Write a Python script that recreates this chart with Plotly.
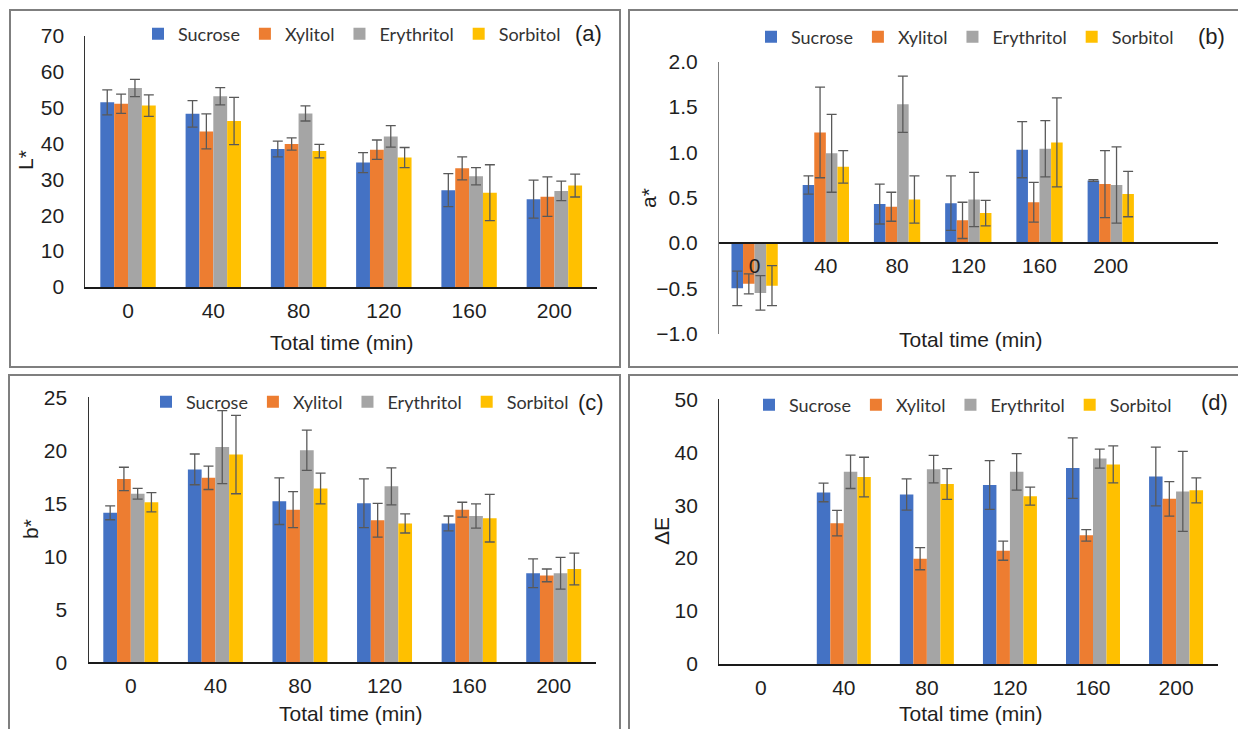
import plotly.graph_objects as go

# ---------------- data ----------------
categories = ["0", "40", "80", "120", "160", "200"]
series = ["Sucrose", "Xylitol", "Erythritol", "Sorbitol"]

# (a) L*
L_sucrose = [51.5, 48.3, 38.5, 34.7, 27.0, 24.5]
L_xylitol = [51.1, 43.4, 39.9, 38.3, 33.1, 25.2]
L_erythritol = [55.5, 53.2, 48.4, 42.0, 30.9, 26.8]
L_sorbitol = [50.6, 46.3, 37.9, 36.1, 26.3, 28.3]
L_err_sucrose = [3.5, 3.7, 2.2, 2.8, 4.6, 5.3]
L_err_xylitol = [2.7, 4.9, 1.7, 2.7, 3.2, 5.5]
L_err_erythritol = [2.4, 2.4, 2.1, 3.0, 2.4, 2.7]
L_err_sorbitol = [3.0, 6.6, 1.9, 2.8, 7.8, 3.2]

# (b) a*
a_sucrose = [-0.50, 0.64, 0.43, 0.44, 1.03, 0.69]
a_xylitol = [-0.45, 1.22, 0.40, 0.25, 0.45, 0.65]
a_erythritol = [-0.55, 0.99, 1.53, 0.48, 1.04, 0.64]
a_sorbitol = [-0.47, 0.84, 0.48, 0.33, 1.11, 0.54]
a_err_sucrose = [0.19, 0.10, 0.22, 0.30, 0.31, 0.01]
a_err_xylitol = [0.11, 0.50, 0.16, 0.20, 0.22, 0.37]
a_err_erythritol = [0.19, 0.43, 0.31, 0.30, 0.31, 0.42]
a_err_sorbitol = [0.22, 0.18, 0.26, 0.14, 0.49, 0.25]

# (c) b*
b_sucrose = [14.1, 18.2, 15.2, 15.0, 13.1, 8.4]
b_xylitol = [17.3, 17.4, 14.4, 13.4, 14.4, 8.2]
b_erythritol = [15.9, 20.3, 20.0, 16.6, 13.8, 8.4]
b_sorbitol = [15.1, 19.6, 16.4, 13.1, 13.6, 8.8]
b_err_sucrose = [0.65, 1.45, 2.2, 2.3, 0.7, 1.35]
b_err_xylitol = [1.1, 1.1, 1.7, 1.6, 0.7, 0.6]
b_err_erythritol = [0.5, 3.45, 1.9, 1.75, 1.15, 1.5]
b_err_sorbitol = [0.9, 3.7, 1.45, 0.9, 2.25, 1.5]

# (d) ΔE
dE_sucrose = [None, 32.4, 32.0, 33.8, 37.0, 35.4]
dE_xylitol = [None, 26.6, 19.9, 21.4, 24.3, 31.2]
dE_erythritol = [None, 36.3, 36.8, 36.3, 38.8, 32.6]
dE_sorbitol = [None, 35.3, 34.0, 31.7, 37.7, 32.8]
dE_err_sucrose = [None, 1.75, 2.95, 4.6, 5.7, 5.55]
dE_err_xylitol = [None, 2.4, 2.1, 1.8, 1.1, 3.25]
dE_err_erythritol = [None, 3.15, 2.6, 3.45, 1.8, 7.55]
dE_err_sorbitol = [None, 3.75, 2.9, 1.7, 3.5, 2.35]

# ---------------- styling ----------------
W, H = 1238, 729
colors = ["#4472C4", "#ED7D31", "#A5A5A5", "#FFC000"]
TXT = "#1f1f1f"
ARIAL = "Liberation Sans, Arial, sans-serif"
TICK_FONT = dict(family=ARIAL, size=21, color=TXT)
LEG_FONT = dict(family="Lato, Liberation Sans, sans-serif", size=18, color="#333333")
AX_COLOR = "#333333"
ERR_COLOR = "#595959"


def fx(px):
    return px / W


def fy(py):
    return 1 - py / H


panels = [
    dict(name="a", vals=[L_sucrose, L_xylitol, L_erythritol, L_sorbitol],
         errs=[L_err_sucrose, L_err_xylitol, L_err_erythritol, L_err_sorbitol],
         xd=(85.4, 597), yd=(287, 36), rng=[0, 70], dtick=10, fmt="d",
         xrange=[-0.5, 5.5], ytitle="L*", ytitle_pos=(26, 160),
         xtitle_pos=(342, 342), leg=(152, 34), tag="(a)", tag_pos=(588, 34)),
    dict(name="b", vals=[a_sucrose, a_xylitol, a_erythritol, a_sorbitol],
         errs=[a_err_sucrose, a_err_xylitol, a_err_erythritol, a_err_sorbitol],
         xd=(719, 1217.6), yd=(333.7, 61.7), rng=[-1.0, 2.0], dtick=0.5, fmt=".1f",
         xrange=[-0.5, 6.5], ytitle="a*", ytitle_pos=(648, 198),
         xtitle_pos=(971, 340), leg=(765, 37), tag="(b)", tag_pos=(1211, 37)),
    dict(name="c", vals=[b_sucrose, b_xylitol, b_erythritol, b_sorbitol],
         errs=[b_err_sucrose, b_err_xylitol, b_err_erythritol, b_err_sorbitol],
         xd=(88.5, 596), yd=(662.3, 397.3), rng=[0, 25], dtick=5, fmt="d",
         xrange=[-0.5, 5.5], ytitle="b*", ytitle_pos=(30, 529),
         xtitle_pos=(351, 713), leg=(160, 402), tag="(c)", tag_pos=(591, 402)),
    dict(name="d", vals=[dE_sucrose, dE_xylitol, dE_erythritol, dE_sorbitol],
         errs=[dE_err_sucrose, dE_err_xylitol, dE_err_erythritol, dE_err_sorbitol],
         xd=(719.2, 1217.6), yd=(664, 399.3), rng=[0, 50], dtick=10, fmt="d",
         xrange=[-0.5, 5.5], ytitle="ΔE", ytitle_pos=(661, 531),
         xtitle_pos=(971, 713), leg=(763, 405), tag="(d)", tag_pos=(1214, 402)),
]

fig = go.Figure()
layout = dict(
    width=W, height=H, margin=dict(l=0, r=0, t=0, b=0),
    paper_bgcolor="white", plot_bgcolor="white",
    barmode="group", bargap=0.35, bargroupgap=0,
    template="none", shapes=[], annotations=[],
)

for i, p in enumerate(panels):
    k = "" if i == 0 else str(i + 1)
    xa, ya = "x" + k, "y" + k
    legname = "legend" + k
    for s, name in enumerate(series):
        fig.add_trace(go.Bar(
            x=categories, y=p["vals"][s], name=name,
            marker=dict(color=colors[s], line=dict(width=0)),
            error_y=dict(type="data", array=p["errs"][s], color=ERR_COLOR,
                         thickness=1.3, width=5, visible=True),
            xaxis=xa, yaxis=ya, legend=legname, showlegend=True,
        ))
    ydom = [fy(p["yd"][0]), fy(p["yd"][1])]
    xaxis = dict(
        domain=[fx(p["xd"][0]), fx(p["xd"][1])],
        type="category", categoryorder="array", categoryarray=categories,
        range=p["xrange"], showgrid=False, zeroline=False,
        showline=True, linecolor="#1a1a1a", linewidth=1.5,
        ticks="", tickfont=TICK_FONT, ticklabelstandoff=4,
        anchor=ya,
    )
    if p["name"] == "b":
        zero_frac = ydom[0] + (0 - p["rng"][0]) / (p["rng"][1] - p["rng"][0]) * (ydom[1] - ydom[0])
        xaxis.update(anchor="free", position=zero_frac)
    yaxis = dict(
        domain=ydom, range=p["rng"], dtick=p["dtick"], tick0=0,
        tickformat=p["fmt"], showgrid=False, zeroline=False,
        showline=True, linecolor="#7f7f7f" if p["name"] == "b" else AX_COLOR, linewidth=1.2,
        ticks="", tickfont=TICK_FONT, ticklabelstandoff=16, anchor=xa,
    )
    layout["xaxis" + k] = xaxis
    layout["yaxis" + k] = yaxis
    layout[legname] = dict(
        orientation="h", x=fx(p["leg"][0] - 14), y=fy(p["leg"][1]),
        xanchor="left", yanchor="middle", font=LEG_FONT,
        bgcolor="rgba(0,0,0,0)", itemwidth=30, itemclick=False,
    )
    layout["annotations"] += [
        dict(text=p["ytitle"], x=fx(p["ytitle_pos"][0]), y=fy(p["ytitle_pos"][1]),
             xref="paper", yref="paper", showarrow=False, textangle=-90,
             xanchor="center", yanchor="middle",
             font=dict(family=ARIAL, size=21, color=TXT)),
        dict(text="Total time (min)", x=fx(p["xtitle_pos"][0]), y=fy(p["xtitle_pos"][1]),
             xref="paper", yref="paper", showarrow=False,
             xanchor="center", yanchor="middle",
             font=dict(family=ARIAL, size=21, color=TXT)),
        dict(text=p["tag"], x=fx(p["tag_pos"][0]), y=fy(p["tag_pos"][1]),
             xref="paper", yref="paper", showarrow=False,
             xanchor="center", yanchor="middle",
             font=dict(family=ARIAL, size=22, color=TXT)),
    ]

# panel frames
frames = [(10, 10, 620, 367), (629, 10, 1245, 367), (9, 375, 620, 740), (629, 375, 1245, 740)]
for (x0, y0, x1, y1) in frames:
    layout["shapes"].append(dict(
        type="rect", xref="paper", yref="paper",
        x0=fx(x0), x1=fx(x1), y0=fy(y1), y1=fy(y0),
        line=dict(color="#7f7f7f", width=2), fillcolor="rgba(0,0,0,0)", layer="below",
    ))

fig.update_layout(**layout)
fig.write_html(
    "out.html",
    config={"displayModeBar": False},
    post_script="document.body.style.margin='0';document.body.style.overflow='hidden';",
)
